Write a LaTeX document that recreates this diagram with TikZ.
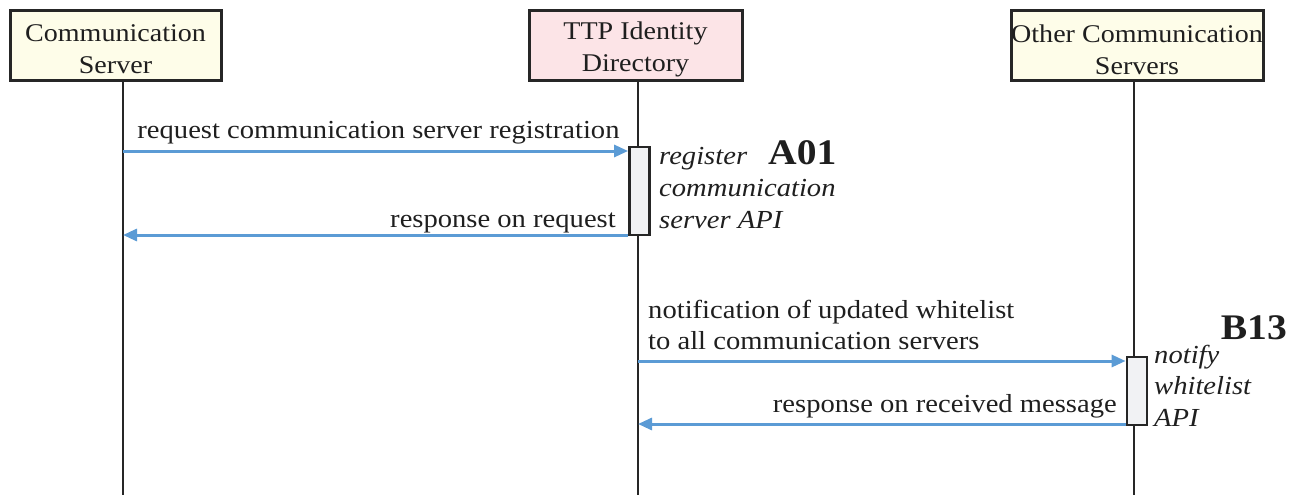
\documentclass[tikz,border=0pt]{standalone}
\usepackage{fontspec}
\setmainfont[FakeStretch=1.1]{Liberation Serif}
\usetikzlibrary{arrows.meta}
\definecolor{boxyellow}{HTML}{FEFDE9}
\definecolor{boxpink}{HTML}{FCE4E7}
\definecolor{actgray}{HTML}{F1F2F4}
\definecolor{msgblue}{HTML}{5B9BD5}
\definecolor{linedark}{HTML}{262626}
\begin{document}
\begin{tikzpicture}[x=1pt,y=-1pt,
  party/.style={draw=linedark,line width=3pt,minimum width=#1,minimum height=69pt,inner sep=0pt},
  ptext/.style={inner sep=0pt,align=center,font=\fontsize{25.5}{32}\selectfont,text=black!88,yshift=-4pt},
  lifeline/.style={draw=linedark,line width=2pt},
  actbox/.style={draw=linedark,line width=2.8pt,fill=actgray,minimum width=20pt,minimum height=#1,inner sep=0pt},
  msg/.style={draw=msgblue,line width=3pt,-{Triangle[length=14pt,width=12pt]}},
  lbl/.style={inner sep=0pt,font=\fontsize{26}{32}\selectfont,text=black!88},
  ilbl/.style={inner sep=0pt,font=\fontsize{26}{32}\selectfont\itshape,text=black!88},
  code/.style={inner sep=0pt,font=\fontsize{36}{40}\selectfont\bfseries,text=black!88}
]
\useasboundingbox (0,0) rectangle (1290,495);
% participants
\node[party=211pt,fill=boxyellow,label={[ptext]center:Communication\\Server}] (cs) at (115.5,45.5) {};
\node[party=213pt,fill=boxpink,label={[ptext]center:TTP Identity\\Directory}] (ttp) at (635.5,45.5) {};
\node[party=252pt,fill=boxyellow,label={[ptext]center:Other Communication\\Servers}] (ocs) at (1137,45.5) {};
% lifelines
\coordinate (csend) at (123,495);
\coordinate (ttpend) at (638,495);
\coordinate (ocsend) at (1134,495);
\draw[lifeline] (cs.south -| csend) -- (csend);
\draw[lifeline] (ttp.south -| ttpend) -- (ttpend);
\draw[lifeline] (ocs.south -| ocsend) -- (ocsend);
% activations
\node[actbox=88pt] (act1) at (639.5,191) {};
\node[actbox=68pt] (act2) at (1137,391) {};
% messages
\coordinate (m1s) at (123,151);
\coordinate (m2e) at (123,235);
\coordinate (m3s) at (638,361);
\coordinate (m4e) at (638,424);
\draw[msg] (m1s) -- (act1.west |- m1s);
\draw[msg] (act1.west |- m2e) -- (m2e);
\draw[msg] (m3s) -- (act2.west |- m3s);
\draw[msg] (act2.west |- m4e) -- (m4e);
% labels
\node[lbl,anchor=base] (l1) at (378.5,138) {request communication server registration};
\node[lbl,anchor=base east] (l2) at (616,227) {response on request};
\node[lbl,anchor=base west] (l3a) at (648,318) {notification of updated whitelist};
\node[lbl,anchor=base west] (l3b) at (648,349) {to all communication servers};
\node[lbl,anchor=base east] (l4) at (1117,412) {response on received message};
% activation descriptions
\node[ilbl,anchor=base west] (a1) at (659,164) {register};
\node[ilbl,anchor=base west] (a2) at (659,196) {communication};
\node[ilbl,anchor=base west] (a3) at (659,228) {server API};
\node[code,anchor=base west] (A01) at (768,164) {A01};
\node[ilbl,anchor=base west] (b1) at (1154,363) {notify};
\node[ilbl,anchor=base west] (b2) at (1154,394) {whitelist};
\node[ilbl,anchor=base west] (b3) at (1154,426) {API};
\node[code,anchor=base east] (B13) at (1287,339) {B13};
\end{tikzpicture}
\end{document}
